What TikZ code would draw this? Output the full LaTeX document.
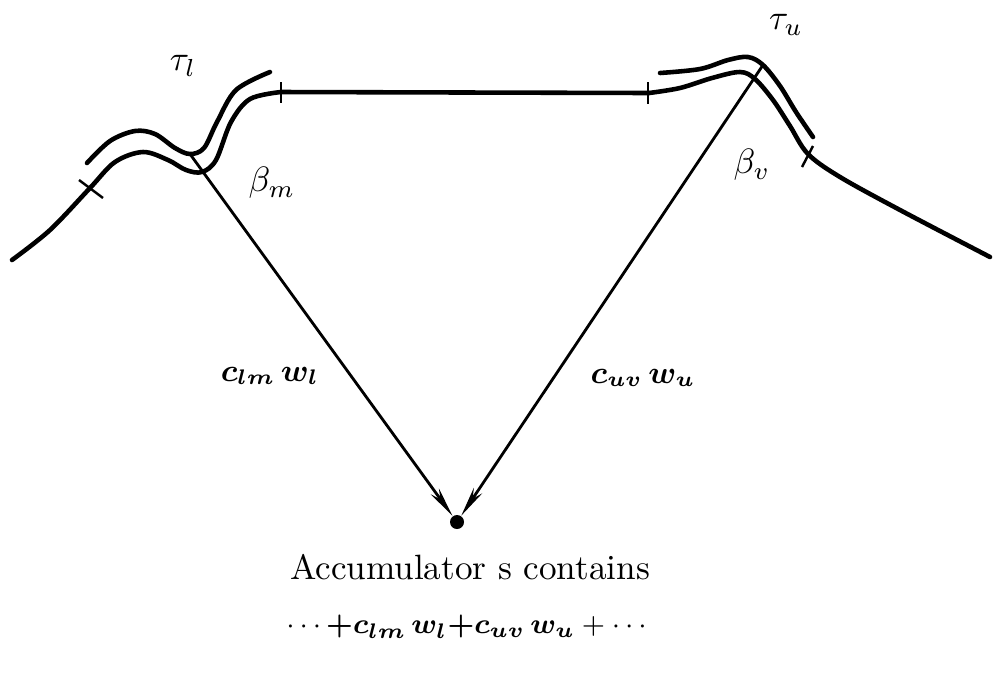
\documentclass[tikz,border=0pt]{standalone}
\usepackage{amsmath,amssymb,bm}
\usepackage{tikz}
\usetikzlibrary{arrows.meta,positioning,calc}

\begin{document}
\begin{tikzpicture}[x=0.01cm, y=-0.01cm, >={Stealth[length=0.3cm,width=0.1cm]},
  every node/.style={font=\normalsize},
  bank/.style={line width=1.3pt, line cap=round},
  tick/.style={line width=0.7pt},
  ray/.style={line width=0.8pt}]
  \useasboundingbox (0,0) rectangle (994,675);
  % lower curve
  \draw[bank] plot[smooth, tension=0.55] coordinates {(12,260) (50,230) (90,188) (115,162) (143,152) (168,160) (186,170) (202,172) (216,160) (231,122) (250,99) (281,92)};
  \draw[bank] (281,92) -- (649,93);
  \draw[bank] plot[smooth, tension=0.55] coordinates {(649,93) (680,88) (712,78) (740,72) (755,79) (773,100) (790,126) (808,154) (840,177) (900,210) (990,257)};
  % upper curves
  \draw[bank] plot[smooth, tension=0.55] coordinates {(87,163) (110,141) (135,131) (155,134) (175,148) (190,154) (204,148) (217,122) (236,90) (270,72)};
  \draw[bank] plot[smooth, tension=0.55] coordinates {(660,73) (700,69) (728,60) (748,57) (763,65) (780,86) (796,112) (813,137)};
  % ticks
  \draw[tick] (79,180) -- (103,198);
  \draw[tick] (281,82) -- (281,103);
  \draw[tick] (648,82) -- (648,104);
  \draw[tick] (813,146) -- (802,167);
  % accumulator
  \coordinate (ltop) at (190,154);
  \coordinate (utop) at (763,65);
  \node[circle, fill, inner sep=0pt, minimum size=0.14cm] (acc) at (457,522) {};
  \draw[ray, ->] (ltop) -- (acc);
  \draw[ray, ->] (utop) -- (acc);
  \node (taul) at (183,66) {$\tau_l$};
  \node (betam) at (272,183) {$\beta_m$};
  \node (tauu) at (786,25) {$\tau_u$};
  \node (betav) at (752,165) {$\beta_v$};
  \node[font=\small] (wl) at (270,376) {$\bm{c_{lm}\,w_l}$};
  \node[font=\small] (wu) at (643,378) {$\bm{c_{uv}\,w_u}$};
  \node (acctext) at (470,567) {Accumulator s contains};
  \node[font=\footnotesize] (sum) at (469,627) {$\cdots\bm{{+}c_{lm}\,w_l{+}c_{uv}\,w_u}+\cdots$};
\end{tikzpicture}
\end{document}
